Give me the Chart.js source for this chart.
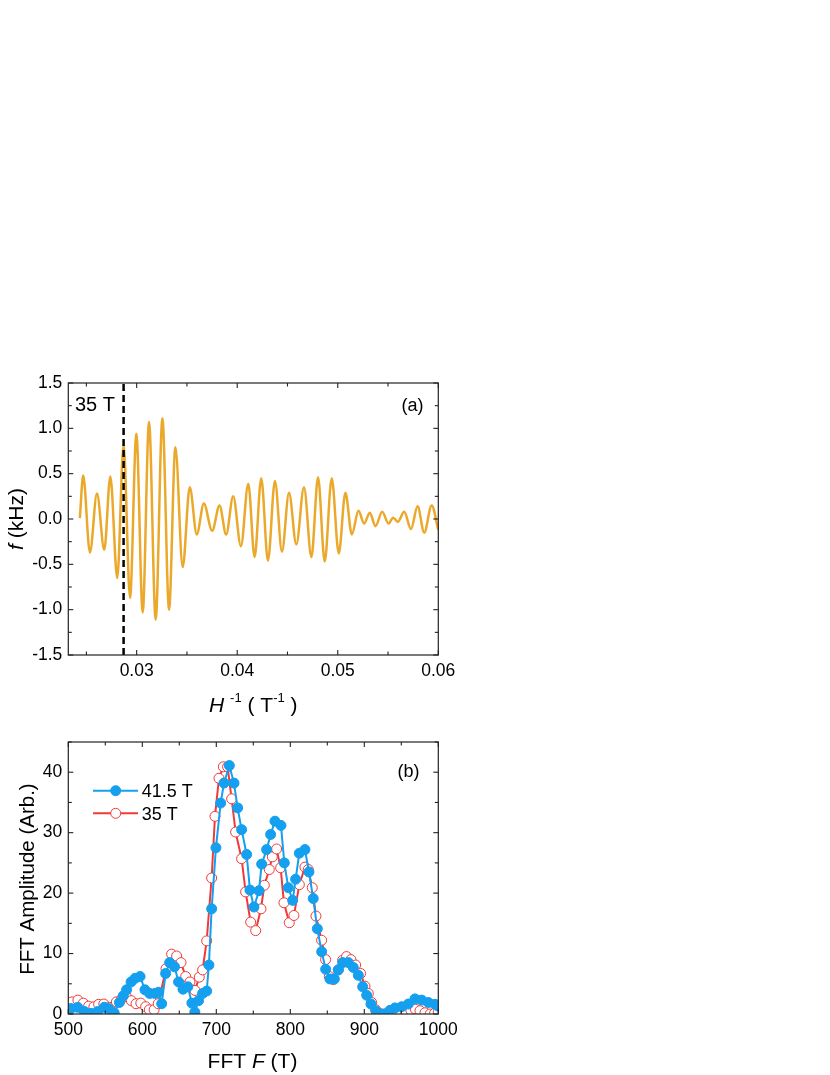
<!DOCTYPE html>
<html><head><meta charset="utf-8">
<script src="https://cdn.jsdelivr.net/npm/chart.js@4/dist/chart.umd.min.js"></script>
<style>
html,body{margin:0;padding:0;background:#fff;}
body{width:830px;height:1075px;position:relative;overflow:hidden;}
canvas{position:absolute;left:0;}
#ca{top:360px;} #cb{top:725px;}
</style></head><body>
<canvas id="ca" width="470" height="365"></canvas>
<canvas id="cb" width="470" height="350"></canvas>
<script>
// ---------- Panel (a): oscillation f vs 1/H (extrema) ----------
const sigX = [0.02435,0.02468,0.02535,0.02605,0.02678,0.02738,0.02807,0.0287,0.02934,0.02997,0.0306,0.03123,0.03189,0.03256,0.03322,0.03385,0.03458,0.03528,0.03598,0.03668,0.03751,0.03824,0.0389,0.0396,0.04037,0.0411,0.04173,0.04239,0.04306,0.04375,0.04445,0.04515,0.04588,0.04664,0.04738,0.04804,0.0487,0.0494,0.0501,0.05076,0.0514,0.05206,0.05262,0.05319,0.05375,0.05442,0.05505,0.05551,0.05598,0.05661,0.05728,0.05794,0.0586,0.05934,0.06];
const sigY = [0.01,0.48,-0.37,0.28,-0.34,0.47,-0.65,0.82,-0.87,0.94,-1.03,1.07,-1.11,1.11,-1.0,0.79,-0.53,0.35,-0.17,0.17,-0.13,0.15,-0.17,0.25,-0.30,0.39,-0.42,0.45,-0.46,0.42,-0.36,0.29,-0.28,0.35,-0.42,0.46,-0.47,0.45,-0.38,0.29,-0.17,0.09,-0.05,0.07,-0.08,0.08,-0.05,0.015,-0.03,0.08,-0.11,0.14,-0.15,0.15,-0.12];
const dashX = 0.0287;           // 35 T marker
const xRangeA = [0.0232, 0.06];
const yRangeA = [-1.5, 1.5];
const xTicksA = [0.03, 0.04, 0.05, 0.06];
const yTicksA = [-1.5, -1.0, -0.5, 0.0, 0.5, 1.0, 1.5];

// ---------- Panel (b): FFT amplitude ----------
const fft41X = [503.6,512.7,521.7,530.7,539.7,548.6,554.5,562,569,574.3,578.8,584.8,590.3,597,603.6,610,617,622,626.2,631.5,637,643.5,649,655,661.5,667,671,676,681.5,687,690,693.7,699.5,705.9,710.4,717.6,723.9,728.8,734.2,741,745.5,750.9,757.7,761.3,768,773.4,779.3,787.4,791.9,797.3,803.2,807.2,812.2,819.8,825.2,831,836.5,842.4,847.8,853.6,859.5,864.9,870.8,878.4,885.1,891.9,897.8,903.2,909,915.8,921,927,934.7,941.5,950.5,959.5,968.5,977.5,986.5,995.5,1000];
const fft41Y = [0.9,1.1,0.4,0.1,0.4,1.1,0.9,0.2,1.9,3.0,4.0,5.3,5.9,6.2,4.0,3.4,3.4,3.6,1.7,6.7,8.5,7.8,5.3,4.1,4.5,1.8,0.3,2.2,3.4,3.8,8.1,17.4,27.5,34.9,38.2,41.1,38.2,34.1,30.5,26.4,20.5,17.7,20.4,24.8,27.2,29.7,31.9,31.2,25.0,20.9,18.8,22.3,26.6,27.2,23.5,19.1,14.1,10.3,7.4,5.8,5.8,7.3,8.5,8.5,7.7,6.4,4.5,3.1,1.65,0.5,0,0,0.6,1.0,1.2,1.65,2.5,2.3,1.9,1.6,1.3];
const fft35X = [505,513,520.3,527.5,534.5,541,548,556,565,572,578.5,585.2,591.5,598,604.5,609.5,616,621.5,632,639.6,646.4,652.3,658.6,664.4,671.2,677,681.5,687,693.7,698.2,703.6,709.5,715.3,720.7,726.1,734.2,739.6,746.4,753.2,760.4,764.9,771.6,775.7,781.5,786.9,791.4,798.6,804.9,812.2,819.8,824.3,829.7,834.7,842.3,847.7,852.7,858.1,864.9,870.7,876,882,888.3,895,900.9,905.4,909.9,915.3,921,928,935,942,949,956,963,969,975.2,982,989,995,1000];
const fft35Y = [2.0,2.3,1.8,1.3,1.2,1.6,1.65,1.1,2.0,2.5,2.9,2.2,1.7,1.8,1.2,0.7,0.7,1.7,7.5,9.9,9.6,8.5,6.2,5.3,3.9,6.1,7.3,12.1,22.5,32.7,39.0,40.9,40.9,35.6,30.1,25.7,20.2,15.2,13.8,17.4,21.3,23.9,26.0,27.3,24.2,18.4,15.1,16.3,21.4,24.3,23.9,20.9,16.2,12.2,9.0,6.2,5.7,7.3,8.9,9.5,9.0,8.1,6.7,4.6,3.4,1.9,0.7,0.1,0,0.2,0.3,0.4,0.4,0.6,0.8,0.55,0.2,0,0.1,0.3];
const seriesLabels = ['41.5 T', '35 T'];
const xRangeB = [500, 1000];
const yRangeB = [0, 45];
const xTicksB = [500, 600, 700, 800, 900, 1000];
const yTicksB = [0, 10, 20, 30, 40];

// ---------- styling ----------
const FONT = '"Liberation Sans", Arial, Helvetica, sans-serif';
const GOLD = '#EBA92C', BLUE = '#149FEF', RED = '#F03A3A';
const tickFont = {family: FONT, size: 17.5};
const MR = 5;

function pts(xs, ys){ return xs.map((x,i)=>({x:x, y:ys[i]})); }

const framePlugin = {
  id: 'frame',
  afterDatasetsDraw(chart, args, o){
    const {ctx, chartArea:{left,right,top,bottom}, scales:{x,y}} = chart;
    ctx.save();
    ctx.strokeStyle = '#222'; ctx.lineWidth = 1.2;
    ctx.strokeRect(left, top, right-left, bottom-top);
    ctx.lineWidth = 1.1;
    const seg=(a,b,c,d)=>{ctx.beginPath();ctx.moveTo(a,b);ctx.lineTo(c,d);ctx.stroke();};
    const each=(s, step, fn)=>{
      const n0=Math.ceil(s.min/step-1e-6), n1=Math.floor(s.max/step+1e-6);
      for(let n=n0;n<=n1;n++) fn(s.getPixelForValue(n*step), n);
    };
    each(x, o.xMinor, (px,n)=>{ const L = (n%2===0)?o.major:o.minor; seg(px,bottom,px,bottom-L); seg(px,top,px,top+L); });
    each(y, o.yMinor, (py,n)=>{ const L = (n%2===0)?o.major:o.minor; seg(left,py,left+L,py); seg(right,py,right-L,py); });
    ctx.restore();
  }
};

function drawRuns(ctx, runs, x, y, align){
  let total = 0;
  runs.forEach(r=>{ ctx.font = r.font; r.w = ctx.measureText(r.t).width; total += r.w; });
  let cx = align === 'center' ? x - total/2 : (align === 'right' ? x - total : x);
  ctx.textAlign = 'left';
  runs.forEach(r=>{ ctx.font = r.font; ctx.fillText(r.t, cx, y + (r.dy||0)); cx += r.w; });
}

const textPlugin = {
  id: 'texts',
  afterDraw(chart, args, o){ o.draw(chart.ctx, chart); }
};

// ---------- Chart (a) ----------
const TOPA = 360;
new Chart(document.getElementById('ca'), {
  type: 'line',
  data: { datasets: [
    { data: [{x:dashX, y:yRangeA[0]}, {x:dashX, y:yRangeA[1]}], borderColor:'#000', borderWidth:2.5, borderDash:[7,4], pointRadius:0, clip:0 },
    { data: pts(sigX, sigY), borderColor: GOLD, borderWidth: 2.5, pointRadius: 0, cubicInterpolationMode:'monotone', clip:0 }
  ]},
  options: {
    responsive:false, animation:false, events:[],
    layout:{ padding:{ left:0, top:383-TOPA, right:470-438.3, bottom:0 } },
    plugins:{ legend:{display:false}, tooltip:{enabled:false},
      frame:{ xMinor:0.005, yMinor:0.25, major:5, minor:3.5 },
      texts:{ draw(ctx){
        ctx.save(); ctx.fillStyle = '#000'; ctx.textBaseline = 'alphabetic';
        // y title
        ctx.save(); ctx.translate(17.5, 519-TOPA); ctx.rotate(-Math.PI/2);
        ctx.textBaseline = 'middle';
        drawRuns(ctx, [{t:'f', font:'italic 21px '+FONT},{t:' (kHz)', font:'21px '+FONT}], 0, 0, 'center');
        ctx.restore();
        // x title
        drawRuns(ctx, [
          {t:'H', font:'italic 21px '+FONT},
          {t:' ', font:'21px '+FONT},
          {t:'-1', font:'13px '+FONT, dy:-9.5},
          {t:' ( ', font:'21px '+FONT},
          {t:'T', font:'21px '+FONT},
          {t:'-1', font:'13px '+FONT, dy:-9.5},
          {t:' )', font:'21px '+FONT}
        ], 253.3, 711.7-TOPA, 'center');
        ctx.font = '20px '+FONT; ctx.textAlign='left';
        ctx.fillText('35 T', 75, 410.5-TOPA);
        ctx.font = '18px '+FONT; ctx.textAlign='right';
        ctx.fillText('(a)', 423.5, 411-TOPA);
        ctx.restore();
      }}
    },
    scales:{
      x:{ type:'linear', min:xRangeA[0], max:xRangeA[1],
        afterBuildTicks(s){ s.ticks = xTicksA.map(v=>({value:v})); },
        afterFit(s){ s.height = 365 - (655-TOPA); },
        grid:{display:false, drawTicks:false}, border:{display:false},
        ticks:{ font:tickFont, color:'#000', padding:6, maxRotation:0, autoSkip:false, callback:v=>v.toFixed(2) } },
      y:{ type:'linear', min:yRangeA[0], max:yRangeA[1],
        afterBuildTicks(s){ s.ticks = yTicksA.map(v=>({value:v})); },
        afterFit(s){ s.width = 68.3; },
        grid:{display:false, drawTicks:false}, border:{display:false},
        ticks:{ font:tickFont, color:'#000', padding:6, autoSkip:false, callback:v=>v.toFixed(1) } }
    }
  },
  plugins:[framePlugin, textPlugin]
});

// ---------- Chart (b) ----------
const TOPB = 725;
new Chart(document.getElementById('cb'), {
  type: 'line',
  data: { datasets: [
    { label:seriesLabels[0], data: pts(fft41X, fft41Y), borderColor: BLUE, borderWidth: 2, backgroundColor: BLUE,
      pointRadius: MR, pointBackgroundColor: BLUE, pointBorderColor: BLUE, pointBorderWidth: 1, tension:0, clip:0 },
    { label:seriesLabels[1], data: pts(fft35X, fft35Y), borderColor: RED, borderWidth: 2, backgroundColor: '#fff',
      pointRadius: MR, pointBackgroundColor: '#fff', pointBorderColor: RED, pointBorderWidth: 1, tension:0, clip:0 }
  ]},
  options: {
    responsive:false, animation:false, events:[],
    layout:{ padding:{ left:0, top:742-TOPB, right:470-438.3, bottom:0 } },
    plugins:{ legend:{display:false}, tooltip:{enabled:false},
      frame:{ xMinor:50, yMinor:5, major:5, minor:3.5 },
      texts:{ draw(ctx){
        ctx.save(); ctx.fillStyle = '#000'; ctx.textBaseline = 'alphabetic';
        ctx.save(); ctx.translate(28.5, 879-TOPB); ctx.rotate(-Math.PI/2);
        ctx.textBaseline = 'middle';
        drawRuns(ctx, [{t:'FFT Amplitude (Arb.)', font:'20.5px '+FONT}], 0, 0, 'center');
        ctx.restore();
        drawRuns(ctx, [{t:'FFT ', font:'21px '+FONT},{t:'F', font:'italic 21px '+FONT},{t:' (T)', font:'21px '+FONT}], 252.5, 1067.5-TOPB, 'center');
        ctx.font = '18px '+FONT; ctx.textAlign='right';
        ctx.fillText('(b)', 419.5, 776.5-TOPB);
        // legend
        const rows = [{c:BLUE, fill:BLUE, y:790.7, by:797}, {c:RED, fill:'#fff', y:813.3, by:820}];
        rows.forEach((r,i)=>{
          ctx.strokeStyle = r.c; ctx.lineWidth = 2;
          ctx.beginPath(); ctx.moveTo(93, r.y-TOPB); ctx.lineTo(138, r.y-TOPB); ctx.stroke();
          ctx.beginPath(); ctx.arc(115.7, r.y-TOPB, MR, 0, Math.PI*2);
          ctx.fillStyle = r.fill; ctx.fill(); ctx.lineWidth = 1; ctx.stroke();
          ctx.fillStyle = '#000'; ctx.font = '18px '+FONT; ctx.textAlign = 'left';
          ctx.fillText(seriesLabels[i], 141.7, r.by-TOPB);
        });
        ctx.restore();
      }}
    },
    scales:{
      x:{ type:'linear', min:xRangeB[0], max:xRangeB[1],
        afterBuildTicks(s){ s.ticks = xTicksB.map(v=>({value:v})); },
        afterFit(s){ s.height = 350 - (1014-TOPB); },
        grid:{display:false, drawTicks:false}, border:{display:false},
        ticks:{ font:tickFont, color:'#000', padding:6, maxRotation:0, autoSkip:false, callback:v=>String(v) } },
      y:{ type:'linear', min:yRangeB[0], max:yRangeB[1],
        afterBuildTicks(s){ s.ticks = yTicksB.map(v=>({value:v})); },
        afterFit(s){ s.width = 68.3; },
        grid:{display:false, drawTicks:false}, border:{display:false},
        ticks:{ font:tickFont, color:'#000', padding:6, autoSkip:false, callback:v=>String(v) } }
    }
  },
  plugins:[framePlugin, textPlugin]
});
</script>
</body></html>
